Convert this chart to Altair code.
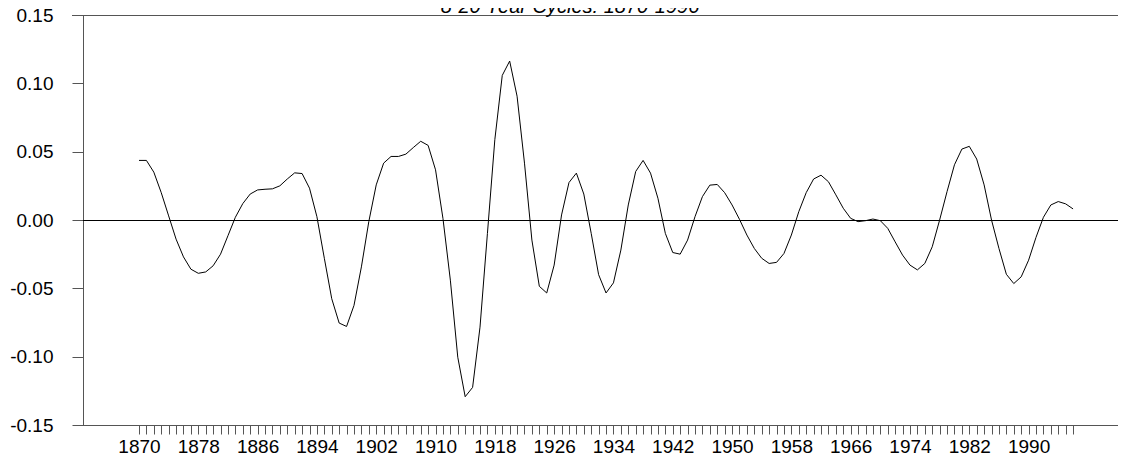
import altair as alt
import pandas as pd

years = list(range(1870, 1997))
values = [
    0.0436, 0.0436, 0.035, 0.020, 0.003, -0.014, -0.027, -0.036, -0.039, -0.038,
    -0.0335, -0.025, -0.0115, 0.002, 0.012, 0.019, 0.022, 0.0225, 0.0228, 0.025,
    0.030, 0.0345, 0.034, 0.0233, 0.0024, -0.028, -0.0576, -0.0754, -0.0779, -0.0625,
    -0.0343, -0.0012, 0.0257, 0.0416, 0.0465, 0.0465, 0.0482, 0.053, 0.0576, 0.0546,
    0.0367, 0.0012, -0.044, -0.1004, -0.1293, -0.1225, -0.0784, -0.0098, 0.0588, 0.1058,
    0.1163, 0.0906, 0.0416, -0.0147, -0.0485, -0.0534, -0.033, 0.0037, 0.0274, 0.0343,
    0.019, -0.0098, -0.040, -0.0534, -0.046, -0.022, 0.011, 0.0355, 0.0436, 0.0343,
    0.0159, -0.0098, -0.0238, -0.025, -0.0147, 0.0024, 0.0171, 0.0255, 0.026, 0.020,
    0.011, 0.0005, -0.011, -0.0208, -0.028, -0.0318, -0.031, -0.0245, -0.011, 0.0061,
    0.020, 0.030, 0.0328, 0.028, 0.0184, 0.0086, 0.0012, -0.0012, -0.0005, 0.0007,
    -0.0005, -0.0061, -0.016, -0.0257, -0.033, -0.0365, -0.0318, -0.0196, 0.0, 0.0208,
    0.0404, 0.0519, 0.0539, 0.0446, 0.0257, 0.0, -0.0208, -0.0397, -0.0465, -0.0416,
    -0.0294, -0.0127, 0.002, 0.011, 0.0135, 0.0118, 0.0081,
]
y_ticks = [-0.15, -0.10, -0.05, 0.0, 0.05, 0.10, 0.15]
title_text = "8-20 Year Cycles: 1870-1996"

df = pd.DataFrame({"year": years, "value": values})

FONT = "Liberation Sans"
AXIS_COLOR = "#555555"

xscale = alt.Scale(domain=[1862.446, 2002.06], nice=False, zero=False)
yscale = alt.Scale(domain=[-0.15, 0.15], nice=False, zero=False)

line = alt.Chart(df).mark_line(color="black", strokeWidth=1).encode(
    x=alt.X(
        "year:Q",
        scale=xscale,
        axis=alt.Axis(
            values=years,
            format="d",
            labelExpr="(datum.value - 1870) % 8 == 0 ? datum.label : ''",
            tickSize=9,
            tickColor=AXIS_COLOR,
            domainColor=AXIS_COLOR,
            labelFontSize=19,
            labelFont=FONT,
            labelColor="black",
            labelPadding=3,
            labelOverlap=False,
            labelFlush=False,
            grid=False,
            title=None,
        ),
    ),
    y=alt.Y(
        "value:Q",
        scale=yscale,
        axis=alt.Axis(
            values=y_ticks,
            labelExpr="datum.value < 0 ? '-' + format(-datum.value, '.2f') : format(datum.value, '.2f')",
            tickSize=11,
            tickColor=AXIS_COLOR,
            domainColor=AXIS_COLOR,
            labelFontSize=19,
            labelFont=FONT,
            labelColor="black",
            labelPadding=19,
            labelOverlap=False,
            labelFlush=False,
            grid=False,
            title=None,
        ),
    ),
)

zero_rule = alt.Chart(df).mark_rule(color="black", strokeWidth=1, yOffset=0.5).encode(
    y=alt.datum(0.0, scale=yscale),
    x=alt.value(0),
    x2=alt.value(1045),
)
top_rule = alt.Chart(df).mark_rule(color=AXIS_COLOR, strokeWidth=1, yOffset=0.5).encode(
    y=alt.datum(0.15, scale=yscale),
    x=alt.value(-11),
    x2=alt.value(1045),
)
bottom_rule = alt.Chart(df).mark_rule(color=AXIS_COLOR, strokeWidth=1, yOffset=0.5).encode(
    y=alt.datum(-0.15, scale=yscale),
    x=alt.value(0),
    x2=alt.value(1045),
)
title = alt.Chart(pd.DataFrame({"t": [title_text]})).mark_text(
    font=FONT, fontSize=20, fontStyle="italic", color="black",
    align="center", baseline="alphabetic",
).encode(
    text="t:N",
    x=alt.value(487),
    y=alt.value(-2),
)

chart = alt.layer(line, zero_rule, top_rule, bottom_rule, title).properties(
    width=1035,
    height=410,
    padding={"left": 75, "top": 7, "right": 0, "bottom": 33},
    autosize=alt.AutoSizeParams(type="none"),
).configure_view(stroke=None)

chart.save("out.html", embed_options={"renderer": "svg", "actions": False})
